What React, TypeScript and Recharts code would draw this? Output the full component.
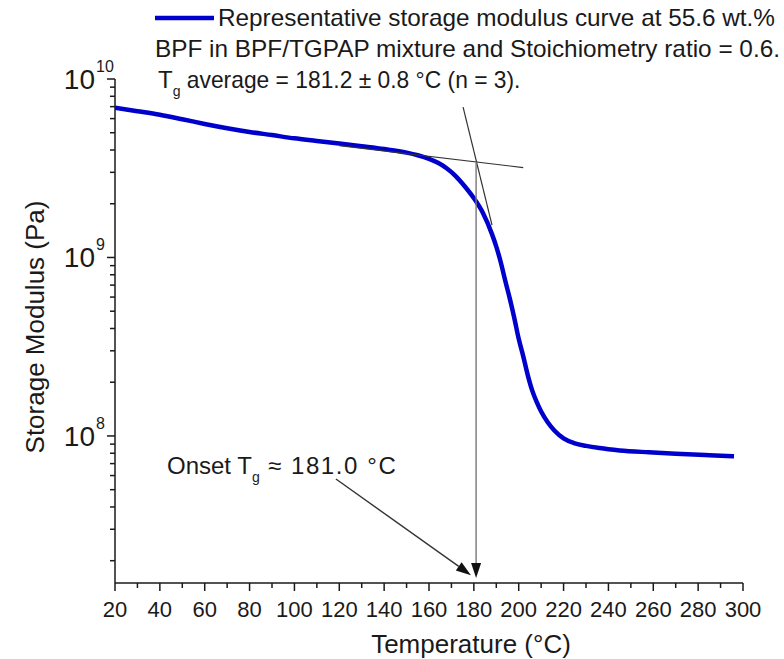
import { LineChart, Line, XAxis, YAxis, ReferenceLine } from 'recharts';

// temperature (°C) and storage modulus (Pa)
const temperature = [
  20, 30, 40, 50, 60, 70, 80, 90, 100, 110, 120, 130, 140, 150, 155, 160, 164, 168, 172, 176, 180,
  184, 188, 190, 192, 194, 196, 198, 200, 202, 204, 206, 208, 210, 213, 216, 220, 225, 230, 236,
  245, 258, 270, 285, 296,
];
const storageModulus = [
  6.9e9, 6.6e9, 6.3e9, 5.95e9, 5.6e9, 5.3e9, 5.05e9, 4.85e9, 4.65e9, 4.5e9, 4.35e9, 4.2e9, 4.05e9,
  3.87e9, 3.74e9, 3.57e9, 3.39e9, 3.15e9, 2.85e9, 2.5e9, 2.15e9, 1.78e9, 1.36e9, 1.15e9, 9.4e8,
  7.4e8, 5.9e8, 4.6e8, 3.5e8, 2.8e8, 2.2e8, 1.8e8, 1.55e8, 1.37e8, 1.19e8, 1.07e8, 9.7e7, 9.1e7,
  8.8e7, 8.55e7, 8.3e7, 8.1e7, 7.95e7, 7.8e7, 7.7e7,
];

const xTicks = [
  20, 30, 40, 50, 60, 70, 80, 90, 100, 110, 120, 130, 140, 150, 160, 170, 180, 190, 200, 210, 220,
  230, 240, 250, 260, 270, 280, 290, 300,
];
const yTicks = [
  2e7, 3e7, 4e7, 5e7, 6e7, 7e7, 8e7, 9e7, 1e8, 2e8, 3e8, 4e8, 5e8, 6e8, 7e8, 8e8, 9e8, 1e9, 2e9,
  3e9, 4e9, 5e9, 6e9, 7e9, 8e9, 9e9, 1e10,
];

// tangent construction and arrows (data coordinates)
const glassyTangent = [{ x: 120, y: 4.23e9 }, { x: 202, y: 3.19e9 }];
const dropTangent = [{ x: 175.2, y: 6.96e9 }, { x: 188.1, y: 1.52e9 }];
const onsetDrop = [{ x: 181, y: 3.43e9 }, { x: 181, y: 1.6e7 }];
const labelArrow = [{ x: 118.5, y: 5.74e7 }, { x: 178.7, y: 1.66e7 }];

const legendText = [
  'Representative storage modulus curve at 55.6 wt.%',
  'BPF in BPF/TGPAP mixture and Stoichiometry ratio = 0.6.',
];

const data = temperature.map((t, i) => ({ t, g: storageModulus[i] }));

const FONT = '"Liberation Sans", Arial, sans-serif';
const INK = '#1a1a1a';

const XTick = ({ x, y, payload }: any) => {
  const v = payload.value;
  const major = v % 20 === 0;
  return (
    <g>
      <line x1={x} y1={y} x2={x} y2={y + (major ? 8 : 5)} stroke={INK} strokeWidth={1.5} />
      {major && (
        <text x={x} y={y + 34} textAnchor="middle" fontSize={22} fontFamily={FONT} fill={INK}>
          {v}
        </text>
      )}
    </g>
  );
};

const YTick = ({ x, y, payload }: any) => {
  const v = payload.value;
  const e = Math.round(Math.log10(v));
  const major = Math.abs(v - Math.pow(10, e)) < v * 1e-6;
  return (
    <g>
      <line x1={x - (major ? 8 : 5)} y1={y} x2={x} y2={y} stroke={INK} strokeWidth={1.5} />
      {major && (
        <g fontFamily={FONT} fill={INK}>
          <text x={x - 20} y={y + 10} textAnchor="end" fontSize={28}>
            10
          </text>
          <text x={x - 19} y={y - 7} textAnchor="start" fontSize={16}>
            {e}
          </text>
        </g>
      )}
    </g>
  );
};

const PlainLine = ({ x1, y1, x2, y2 }: any) => (
  <line x1={x1} y1={y1} x2={x2} y2={y2} stroke="#333" strokeWidth={1.2} />
);

const makeArrow = (color: string) => ({ x1, y1, x2, y2 }: any) => {
  const a = Math.atan2(y2 - y1, x2 - x1);
  const len = 15;
  const w = 5;
  const bx = x2 - len * Math.cos(a);
  const by = y2 - len * Math.sin(a);
  const px = -Math.sin(a) * w;
  const py = Math.cos(a) * w;
  return (
    <g>
      <line x1={x1} y1={y1} x2={bx} y2={by} stroke={color} strokeWidth={1.4} />
      <polygon
        points={`${x2},${y2} ${bx + px},${by + py} ${bx - px},${by - py}`}
        fill="#111"
      />
    </g>
  );
};

export default function App() {
  return (
    <div style={{ position: 'absolute', left: 0, top: 0, width: 784, height: 659, background: '#fff' }}>
      <LineChart
        width={784}
        height={659}
        data={data}
        margin={{ top: 79, right: 41, bottom: 46, left: 55 }}
      >
        <XAxis
          type="number"
          dataKey="t"
          domain={[20, 300]}
          ticks={xTicks}
          interval={0}
          tickSize={0}
          tickMargin={0}
          tick={<XTick />}
          tickLine={false}
          axisLine={{ stroke: INK, strokeWidth: 1.5 }}
          height={30}
          allowDataOverflow
        />
        <YAxis
          type="number"
          scale="log"
          domain={[1.5e7, 1e10]}
          ticks={yTicks}
          interval={0}
          tickSize={0}
          tickMargin={0}
          tick={<YTick />}
          tickLine={false}
          axisLine={{ stroke: INK, strokeWidth: 1.5 }}
          width={60}
          allowDataOverflow
        />
        <Line
          type="monotone"
          dataKey="g"
          stroke="#0000cc"
          strokeWidth={4.5}
          dot={false}
          isAnimationActive={false}
        />
        <ReferenceLine segment={glassyTangent} ifOverflow="visible" shape={<PlainLine />} />
        <ReferenceLine segment={dropTangent} ifOverflow="visible" shape={<PlainLine />} />
        <ReferenceLine segment={onsetDrop} ifOverflow="visible" shape={makeArrow('#777')} />
        <ReferenceLine segment={labelArrow} ifOverflow="visible" shape={makeArrow('#333')} />
      </LineChart>
      <svg
        width={784}
        height={659}
        style={{ position: 'absolute', left: 0, top: 0, pointerEvents: 'none' }}
        fontFamily={FONT}
        fill={INK}
      >
        <line x1={155} y1={18} x2={214} y2={18} stroke="#0000cc" strokeWidth={4.5} />
        <text x={218} y={26} fontSize={24} textLength={557} lengthAdjust="spacingAndGlyphs">
          {legendText[0]}
        </text>
        <text x={155} y={57} fontSize={24} textLength={625} lengthAdjust="spacingAndGlyphs">
          {legendText[1]}
        </text>
        <text x={158} y={88} fontSize={24}>
          T<tspan dy={8} fontSize={14}>g</tspan>
          <tspan dy={-8} textLength={340} lengthAdjust="spacingAndGlyphs">
            {' average = 181.2 ± 0.8 °C (n = 3).'}
          </tspan>
        </text>
        <text x={167} y={474} fontSize={24}>
          Onset T<tspan dy={8} fontSize={14}>g</tspan>
          <tspan dy={-8} textLength={136} lengthAdjust="spacing">
            {' ≈ 181.0  °C'}
          </tspan>
        </text>
        <text x={471} y={653} fontSize={26} textAnchor="middle">
          Temperature (°C)
        </text>
        <text
          x={0}
          y={0}
          fontSize={26}
          textAnchor="middle"
          transform="translate(44 327) rotate(-90)"
        >
          Storage Modulus (Pa)
        </text>
      </svg>
    </div>
  );
}
